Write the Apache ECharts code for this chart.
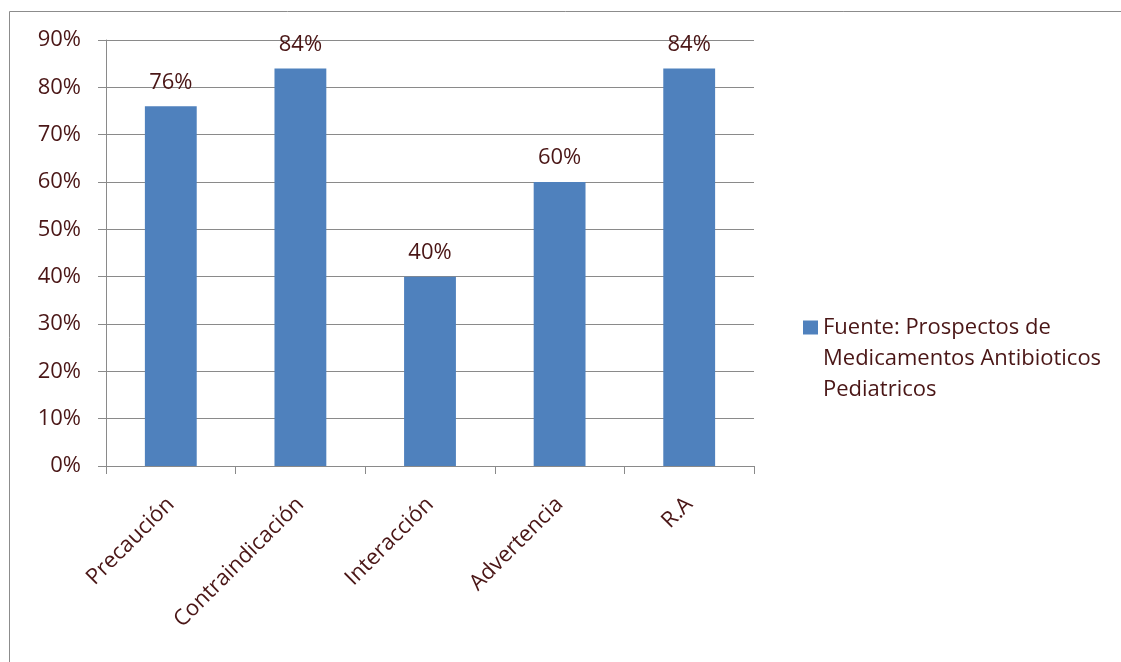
<!DOCTYPE html>
<html>
<head>
<meta charset="utf-8">
<style>
  html, body { margin: 0; padding: 0; background: #fff; }
  #chart { width: 1121px; height: 662px; }
</style>
<script src="https://cdn.jsdelivr.net/npm/echarts@6/dist/echarts.min.js"></script>
</head>
<body>
<div id="chart"></div>
<script>
// Categories and percentages of the bar chart
const categories = ['Precaución', 'Contraindicación', 'Interacción', 'Advertencia', 'R.A'];
const values = [76, 84, 40, 60, 84];
const seriesName = 'Fuente: Prospectos de\nMedicamentos Antibioticos\nPediatricos';
const yTicks = [0, 10, 20, 30, 40, 50, 60, 70, 80, 90];

const textColor = '#4a1616';
const lineColor = '#8a8a8a';
const font = '"Open Sans", sans-serif';
const fontSize = 22;

const chart = echarts.init(document.getElementById('chart'));
chart.setOption({
  animation: false,
  textStyle: { fontFamily: font },
  graphic: [{
    type: 'rect',
    shape: { x: 9.5, y: 11.5, width: 1300, height: 800 },
    style: { fill: 'none', stroke: '#8c8c8c', lineWidth: 1 },
    silent: true
  }],
  grid: { left: 106, top: 40, right: 367, bottom: 196, containLabel: false },
  legend: {
    orient: 'vertical',
    left: 798,
    top: 245,
    itemWidth: 15,
    itemHeight: 14,
    itemGap: 0,
    itemStyle: { borderWidth: 0 },
    // two leading blank lines keep the swatch level with the first text line
    formatter: name => '\n\n' + name,
    textStyle: {
      color: textColor,
      fontSize: fontSize,
      lineHeight: 31,
      fontFamily: font
    },
    data: [{ name: seriesName, icon: 'rect' }]
  },
  xAxis: {
    type: 'category',
    data: categories,
    axisLine: { lineStyle: { color: lineColor, width: 1 } },
    axisTick: { show: true, alignWithLabel: false, length: 8, lineStyle: { color: lineColor } },
    axisLabel: {
      rotate: 45,
      margin: 35,
      color: textColor,
      fontSize: fontSize,
      fontFamily: font,
      interval: 0
    }
  },
  yAxis: {
    type: 'value',
    min: yTicks[0],
    max: yTicks[yTicks.length - 1],
    interval: 10,
    axisLine: { show: true, lineStyle: { color: lineColor, width: 1 } },
    axisTick: { show: true, length: 8, lineStyle: { color: lineColor } },
    splitLine: { show: true, lineStyle: { color: lineColor, width: 1 } },
    axisLabel: {
      margin: 25,
      color: textColor,
      fontSize: fontSize,
      fontFamily: font,
      formatter: v => v + '%'
    }
  },
  series: [{
    name: seriesName,
    type: 'bar',
    data: values,
    barWidth: '40%',
    itemStyle: { color: '#4f81bd' },
    label: {
      show: true,
      position: 'top',
      distance: 13,
      color: textColor,
      fontSize: fontSize,
      fontFamily: font,
      formatter: p => p.value + '%'
    }
  }]
});
</script>
</body>
</html>
